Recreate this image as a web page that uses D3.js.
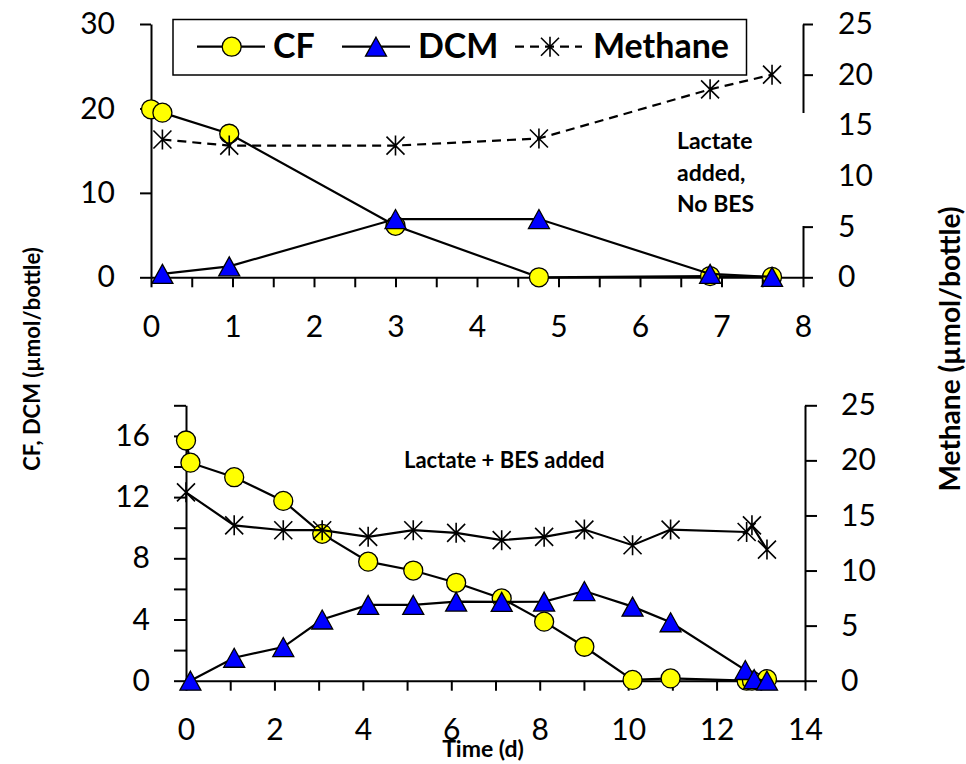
<!DOCTYPE html>
<html>
<head>
<meta charset="utf-8">
<script src="https://cdn.jsdelivr.net/npm/d3@7"></script>
<style>
  body { margin: 0; background: #fff; }
  svg text { font-family: Lato, "Open Sans", sans-serif; fill: #000; }
</style>
</head>
<body>
<div id="chart"></div>
<script>
// Top panel: lactate added, no BES
var topCfDays = [0, 0.14, 0.96, 3.0, 4.76, 6.86, 7.62],
    topCfVals = [19.9, 19.5, 17.0, 6.1, 0, 0.15, 0.05],
    topDcmDays = [0.14, 0.96, 3.0, 4.76, 6.86, 7.62],
    topDcmVals = [0.4, 1.3, 6.9, 6.9, 0.4, 0.05],
    topCh4Days = [0.14, 0.96, 3.0, 4.76, 6.86, 7.62],
    topCh4Vals = [13.6, 13.0, 13.0, 13.7, 18.55, 20.0];

// Bottom panel: lactate + BES added
var botCfDays = [0, 0.1, 1.09, 2.2, 3.08, 4.12, 5.14, 6.11, 7.14, 8.1, 9.01, 10.1, 10.96, 12.68, 12.8, 13.14],
    botCfVals = [15.7, 14.25, 13.3, 11.75, 9.6, 7.78, 7.2, 6.4, 5.38, 3.86, 2.22, 0.05, 0.15, 0, 0, 0.1],
    botDcmDays = [0.1, 1.09, 2.2, 3.08, 4.12, 5.14, 6.11, 7.14, 8.1, 9.01, 10.1, 10.96, 12.65, 12.85, 13.14],
    botDcmVals = [0, 1.5, 2.2, 4.0, 4.95, 4.95, 5.17, 5.15, 5.17, 5.86, 4.84, 3.82, 0.7, 0.1, 0],
    botCh4Days = [0, 1.09, 2.2, 3.08, 4.12, 5.14, 6.11, 7.14, 8.1, 9.01, 10.1, 10.96, 12.68, 12.8, 13.14],
    botCh4Vals = [17.1, 14.1, 13.66, 13.66, 13.06, 13.66, 13.42, 12.76, 13.06, 13.72, 12.3, 13.72, 13.5, 14.1, 11.9];

// Axis ticks and labels
var topXTicks = d3.range(0, 8.01, 0.5),
    topLeftTicks = [0, 10, 20, 30],
    rightTicks = [0, 5, 10, 15, 20, 25],
    botXTicks = d3.range(0, 14.01, 1),
    botLeftTicks = d3.range(0, 18.01, 2),
    legendNames = ["CF", "DCM", "Methane"],
    topNote = ["Lactate", "added,", "No BES"],
    botNote = "Lactate + BES added",
    leftTitle = "CF, DCM (\u00b5mol/bottle)",
    rightTitle = "Methane (\u00b5mol/bottle)",
    xTitle = "Time (d)";

var chart = (function (d3) {
  "use strict";

  var loc_width = 966,
      loc_height = 764,
      loc_yellow = "#ffff00",
      loc_blue = "#0000ff";

  var private_methods = {
    zip: function (aX, aY) {
      return aX.map(function (x, i) { return [x, aY[i]]; });
    },
    ident: function (v) {
      return v;
    },
    // style an axis group the way the original does
    styleAxis: function (g, iSize) {
      g.selectAll("path.domain").attr("stroke", "#000").attr("stroke-width", 2);
      g.selectAll(".tick line").attr("stroke", "#000").attr("stroke-width", 2);
      g.selectAll(".tick text").style("font-size", iSize + "px").attr("fill", "#000");
    },
    circles: function (g, aPts, x, y) {
      g.selectAll(null).data(aPts).enter().append("circle")
        .attr("cx", function (d) { return x(d[0]); })
        .attr("cy", function (d) { return y(d[1]); })
        .attr("r", 9.5)
        .attr("fill", loc_yellow)
        .attr("stroke", "#000")
        .attr("stroke-width", 1.3);
    },
    triangles: function (g, aPts, x, y) {
      g.selectAll(null).data(aPts).enter().append("path")
        .attr("d", "M0,-9.5L10.5,9.5L-10.5,9.5Z")
        .attr("transform", function (d) { return "translate(" + x(d[0]) + "," + y(d[1]) + ")"; })
        .attr("fill", loc_blue)
        .attr("stroke", "#000")
        .attr("stroke-width", 1.3);
    },
    stars: function (g, aPts, x, y) {
      g.selectAll(null).data(aPts).enter().append("path")
        .attr("d", "M-9,-9L9,9M9,-9L-9,9M0,-10L0,10")
        .attr("transform", function (d) { return "translate(" + x(d[0]) + "," + y(d[1]) + ")"; })
        .attr("fill", "none")
        .attr("stroke", "#000")
        .attr("stroke-width", 1.6);
    },
    line: function (g, aPts, x, y, sDash) {
      var fLine = d3.line()
        .x(function (d) { return x(d[0]); })
        .y(function (d) { return y(d[1]); });
      g.append("path")
        .attr("d", fLine(aPts))
        .attr("fill", "none")
        .attr("stroke", "#000")
        .attr("stroke-width", 2.2)
        .attr("stroke-dasharray", sDash || null);
    },
    series: function (g, oSet, x, yL, yR, sCh4Dash) {
      var aCf = private_methods.zip(oSet.cfDays, oSet.cfVals),
          aDcm = private_methods.zip(oSet.dcmDays, oSet.dcmVals),
          aCh4 = private_methods.zip(oSet.ch4Days, oSet.ch4Vals);

      private_methods.line(g, aCf, x, yL);
      private_methods.circles(g, aCf, x, yL);
      private_methods.line(g, aDcm, x, yL);
      private_methods.triangles(g, aDcm, x, yL);
      private_methods.line(g, aCh4, x, yR, sCh4Dash);
      private_methods.stars(g, aCh4, x, yR);
    }
  };

  return {
    draw: function (sDiv) {
      var svg = null,
          id = private_methods.ident,
          x0, yL0, yR0, x1, yL1, yR1, g, lg;

      svg = d3.select(sDiv).append("svg")
        .attr("width", loc_width)
        .attr("height", loc_height);

      // ---- top panel
      x0 = d3.scaleLinear().domain([0, 8]).range([151, 803]);
      yL0 = d3.scaleLinear().domain([0, 30]).range([277.3, 24]);
      yR0 = d3.scaleLinear().domain([0, 25]).range([277.3, 24]);

      g = svg.append("g").attr("transform", "translate(0,277.3)")
        .call(d3.axisBottom(x0).tickValues(topXTicks).tickSize(10).tickSizeOuter(0).tickPadding(28)
          .tickFormat(function (d) { return d % 1 === 0 ? d : ""; }));
      private_methods.styleAxis(g, 30);

      g = svg.append("g").attr("transform", "translate(151,0)")
        .call(d3.axisLeft(yL0).tickValues(topLeftTicks).tickSize(11).tickSizeOuter(0).tickPadding(25));
      private_methods.styleAxis(g, 30);

      g = svg.append("g").attr("transform", "translate(803,0)")
        .call(d3.axisRight(yR0).tickValues(rightTicks).tickSize(10).tickSizeOuter(0).tickPadding(25));
      private_methods.styleAxis(g, 30);

      private_methods.series(svg.append("g"), {
        cfDays: topCfDays, cfVals: topCfVals,
        dcmDays: topDcmDays, dcmVals: topDcmVals,
        ch4Days: topCh4Days, ch4Vals: topCh4Vals
      }, x0, yL0, yR0, "9,6");

      // white note box, hides part of the right axis
      svg.append("rect").attr("x", 668).attr("y", 113).attr("width", 148).attr("height", 113)
        .attr("fill", "#fff");
      svg.append("text")
        .attr("x", 677).attr("y", 149)
        .style("font-size", "23px").style("font-weight", "bold")
        .selectAll("tspan").data(topNote).enter().append("tspan")
        .attr("x", 677)
        .attr("dy", function (d, i) { return i === 0 ? 0 : 31.5; })
        .text(function (d) { return d; });

      // legend
      lg = svg.append("g");
      lg.append("rect").attr("x", 173).attr("y", 19.5).attr("width", 573.5).attr("height", 55.5)
        .attr("fill", "#fff").attr("stroke", "#000").attr("stroke-width", 1.5);
      private_methods.line(lg, [[197, 46.7], [265, 46.7]], id, id);
      private_methods.circles(lg, [[231.7, 46.7]], id, id);
      private_methods.line(lg, [[342, 46.7], [410, 46.7]], id, id);
      private_methods.triangles(lg, [[376, 46.7]], id, id);
      private_methods.line(lg, [[515, 46.7], [582, 46.7]], id, id, "9,6");
      private_methods.stars(lg, [[550, 46.7]], id, id);
      lg.selectAll("text.leg").data(legendNames).enter().append("text")
        .attr("class", "leg")
        .attr("x", function (d, i) { return [273, 418, 593][i]; })
        .attr("y", 58.3)
        .style("font-size", "34px").style("font-weight", "bold")
        .text(function (d) { return d; });

      // ---- bottom panel
      x1 = d3.scaleLinear().domain([0, 14]).range([186, 805]);
      yL1 = d3.scaleLinear().domain([0, 18]).range([680.7, 405.3]);
      yR1 = d3.scaleLinear().domain([0, 25]).range([680.7, 405.3]);

      g = svg.append("g").attr("transform", "translate(0,680.7)")
        .call(d3.axisBottom(x1).tickValues(botXTicks).tickSize(10).tickSizeOuter(0).tickPadding(28)
          .tickFormat(function (d) { return d % 2 === 0 ? d : ""; }));
      private_methods.styleAxis(g, 30);

      g = svg.append("g").attr("transform", "translate(186,0)")
        .call(d3.axisLeft(yL1).tickValues(botLeftTicks).tickSize(12).tickSizeOuter(0).tickPadding(24)
          .tickFormat(function (d) { return d % 4 === 0 ? d : ""; }));
      private_methods.styleAxis(g, 30);

      g = svg.append("g").attr("transform", "translate(805,0)")
        .call(d3.axisRight(yR1).tickValues(rightTicks).tickSize(12).tickSizeOuter(0).tickPadding(24));
      private_methods.styleAxis(g, 30);

      private_methods.series(svg.append("g"), {
        cfDays: botCfDays, cfVals: botCfVals,
        dcmDays: botDcmDays, dcmVals: botDcmVals,
        ch4Days: botCh4Days, ch4Vals: botCh4Vals
      }, x1, yL1, yR1, null);

      svg.append("text").attr("x", 404).attr("y", 468)
        .style("font-size", "22px").style("font-weight", "bold")
        .text(botNote);

      // ---- axis titles
      svg.append("text").attr("transform", "translate(39.5,359) rotate(-90)")
        .attr("text-anchor", "middle")
        .style("font-size", "22px").style("font-weight", "bold")
        .text(leftTitle);
      svg.append("text").attr("transform", "translate(960,349) rotate(-90)")
        .attr("text-anchor", "middle")
        .style("font-size", "28px").style("font-weight", "bold")
        .text(rightTitle);
      svg.append("text").attr("x", 483).attr("y", 756.7)
        .attr("text-anchor", "middle")
        .style("font-size", "23px").style("font-weight", "bold")
        .text(xTitle);
    }
  };
}(d3));

chart.draw("#chart");
</script>
</body>
</html>
